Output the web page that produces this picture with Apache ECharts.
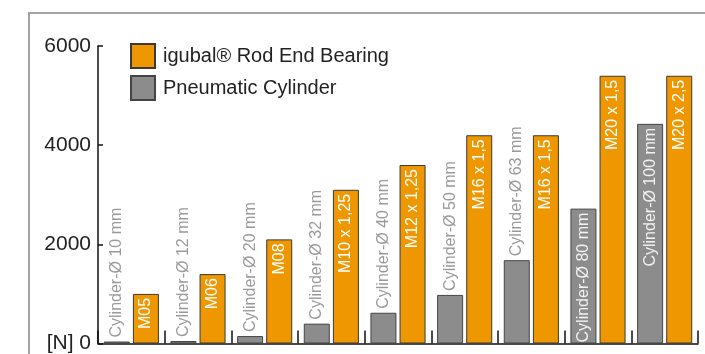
<!DOCTYPE html>
<html>
<head>
<meta charset="utf-8">
<style>
  html, body { margin: 0; padding: 0; background: #fff; }
  #chart { width: 705px; height: 354px; }
</style>
<script src="https://cdn.jsdelivr.net/npm/echarts@6/dist/echarts.min.js"></script>
</head>
<body>
<div id="chart"></div>
<script>
// Pull force in N: pneumatic cylinder vs. matching igubal rod end bearing
const cylinderLabels = ['Cylinder-Ø 10 mm', 'Cylinder-Ø 12 mm', 'Cylinder-Ø 20 mm', 'Cylinder-Ø 32 mm',
  'Cylinder-Ø 40 mm', 'Cylinder-Ø 50 mm', 'Cylinder-Ø 63 mm', 'Cylinder-Ø 80 mm', 'Cylinder-Ø 100 mm'];
const cylinderForce = [40, 50, 150, 400, 620, 980, 1680, 2720, 4430];
const rodEndSizes = ['M05', 'M06', 'M08', 'M10 x 1,25', 'M12 x 1,25', 'M16 x 1,5', 'M16 x 1,5', 'M20 x 1,5', 'M20 x 2,5'];
const rodEndForce = [1000, 1400, 2100, 3100, 3600, 4200, 4200, 5400, 5400];
const yTicks = [0, 2000, 4000, 6000];

const FONT = '"Liberation Sans", Arial, sans-serif';
const ORANGE = '#ef9700';
const GREY = '#8c8c8c';

// Cylinder labels sit above short bars and inside the tall ones
const cylinderData = cylinderForce.map((v, i) => {
  const inside = v > 2000;
  return {
    value: v,
    label: inside
      ? { position: 'insideTop', align: 'right', distance: 4, color: '#f2f2f2' }
      : { position: 'top', align: 'left', distance: 4, color: '#9a9a9a' }
  };
});

const chart = echarts.init(document.getElementById('chart'), null, { renderer: 'canvas' });
chart.setOption({
  animation: false,
  backgroundColor: '#fff',
  textStyle: { fontFamily: FONT },
  graphic: [{
    type: 'rect',
    shape: { x: 29, y: 13, width: 720, height: 400 },
    style: { fill: 'none', stroke: '#a3a3a3', lineWidth: 2 },
    silent: true
  }],
  grid: { left: 98, right: 7, top: 46, bottom: 8, containLabel: false },
  legend: {
    orient: 'vertical',
    left: 130, top: 43, padding: 0,
    icon: 'rect',
    itemWidth: 24, itemHeight: 24, itemGap: 6,
    textStyle: { fontSize: 20, color: '#222', fontFamily: FONT, padding: [0, 0, 0, 3] },
    data: ['igubal® Rod End Bearing', 'Pneumatic Cylinder']
  },
  xAxis: {
    type: 'category',
    data: rodEndSizes.map((s, i) => i),
    axisLine: { lineStyle: { color: '#111', width: 1.5 } },
    axisTick: { show: true, inside: true, length: 13, alignWithLabel: false, lineStyle: { color: '#111', width: 1.5 } },
    axisLabel: { show: false },
    splitLine: { show: false }
  },
  yAxis: {
    type: 'value',
    min: yTicks[0], max: yTicks[yTicks.length - 1], interval: 2000,
    axisLine: { show: true, lineStyle: { color: '#111', width: 1.5 } },
    axisTick: { show: true, inside: true, length: 5, lineStyle: { color: '#111', width: 1.5 } },
    splitLine: { show: false },
    axisLabel: {
      fontSize: 21, color: '#222', margin: 7, fontFamily: FONT,
      formatter: v => (v === 0 ? '[N] 0' : String(v))
    }
  },
  series: [
    {
      name: 'Pneumatic Cylinder',
      type: 'bar',
      barWidth: 26,
      barGap: '12%',
      data: cylinderData,
      itemStyle: { color: GREY, borderColor: '#444', borderWidth: 1 },
      label: {
        show: true, rotate: 90, verticalAlign: 'middle', fontSize: 16, fontFamily: FONT,
        formatter: p => cylinderLabels[p.dataIndex]
      }
    },
    {
      name: 'igubal® Rod End Bearing',
      type: 'bar',
      barWidth: 26,
      data: rodEndForce,
      itemStyle: { color: ORANGE, borderColor: '#3a3a3a', borderWidth: 1 },
      label: {
        show: true, position: 'insideTop', rotate: 90, align: 'right', verticalAlign: 'middle',
        distance: 4, fontSize: 16, color: '#fff', fontFamily: FONT,
        formatter: p => rodEndSizes[p.dataIndex]
      }
    }
  ]
});
</script>
</body>
</html>
